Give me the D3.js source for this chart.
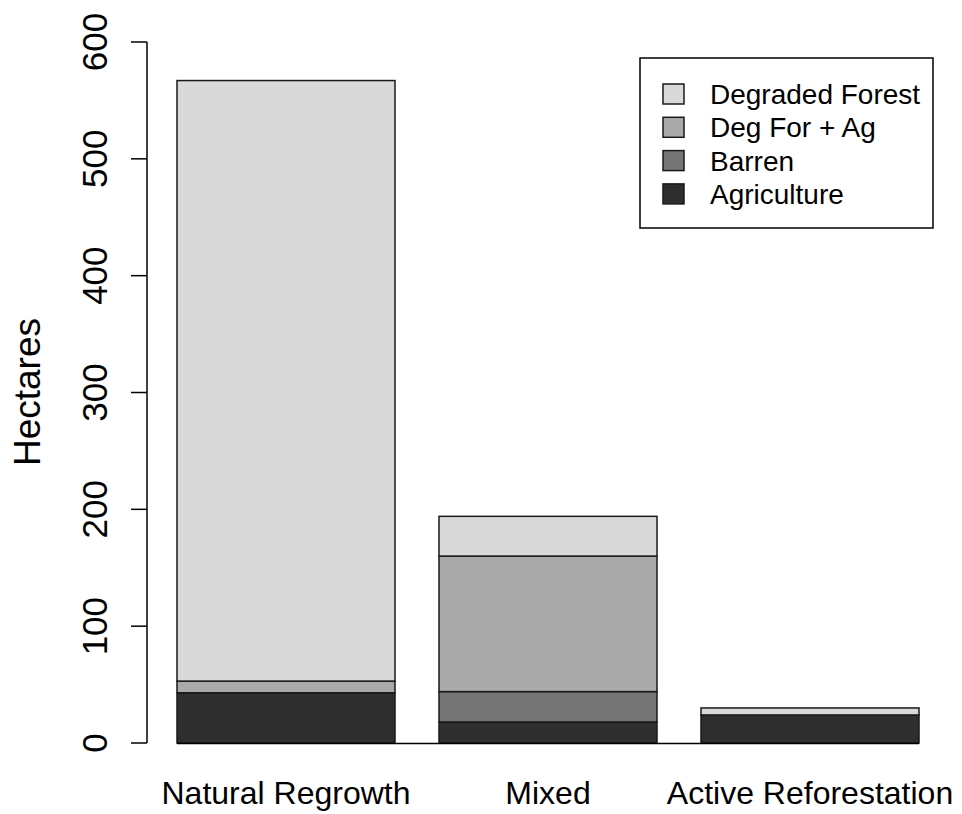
<!DOCTYPE html>
<html>
<head>
<meta charset="utf-8">
<script src="https://cdn.jsdelivr.net/npm/d3@7"></script>
<style>
  body { margin: 0; background: #fff; }
  text { font-family: "Liberation Sans", Arial, sans-serif; fill: #000; }
</style>
</head>
<body>
<svg id="chart" width="962" height="814"></svg>
<script>
var categories = ['Natural Regrowth', 'Mixed', 'Active Reforestation'];
var series = ['Agriculture', 'Barren', 'Deg For + Ag', 'Degraded Forest'];
var agriculture = [43, 18, 24];
var barren = [0, 26, 0];
var degForAg = [10, 116, 0];
var degradedForest = [514, 34, 6];
var colors = ['#2e2e2e', '#757575', '#aaaaaa', '#d9d9d9'];
var yTicks = [0, 100, 200, 300, 400, 500, 600];

var svg = d3.select('#chart');

var x = d3.scaleBand().domain(categories).range([177, 919]).paddingInner(44 / 262).paddingOuter(0);
var y = d3.scaleLinear().domain([0, 600]).range([743, 42]);

var rows = categories.map((c, i) => ({
  cat: c,
  Agriculture: agriculture[i],
  Barren: barren[i],
  'Deg For + Ag': degForAg[i],
  'Degraded Forest': degradedForest[i]
}));

var stacked = d3.stack().keys(series)(rows);

// bars
stacked.forEach((layer, k) => {
  svg.append('g')
    .selectAll('rect')
    .data(layer)
    .enter()
    .append('rect')
    .attr('x', (d) => x(d.data.cat))
    .attr('width', x.bandwidth())
    .attr('y', (d) => y(d[1]))
    .attr('height', (d) => y(d[0]) - y(d[1]))
    .attr('fill', colors[k])
    .attr('stroke', '#1a1a1a')
    .attr('stroke-width', 1.5);
});

// baseline under bars
svg.append('line')
  .attr('x1', x.range()[0])
  .attr('x2', x.range()[1])
  .attr('y1', y(0) + 0.5)
  .attr('y2', y(0) + 0.5)
  .attr('stroke', '#000')
  .attr('stroke-width', 1.5);

// y axis
var yAxis = svg.append('g').attr('transform', 'translate(147,0)');
yAxis.append('line')
  .attr('x1', 0).attr('x2', 0)
  .attr('y1', y(600)).attr('y2', y(0))
  .attr('stroke', '#000').attr('stroke-width', 1.5);
yAxis.selectAll('.tick')
  .data(yTicks)
  .enter()
  .append('line')
  .attr('x1', -16).attr('x2', 0)
  .attr('y1', (d) => y(d)).attr('y2', (d) => y(d))
  .attr('stroke', '#000').attr('stroke-width', 1.5);
yAxis.selectAll('.lab')
  .data(yTicks)
  .enter()
  .append('text')
  .attr('transform', (d) => `translate(-40,${y(d)}) rotate(-90)`)
  .attr('text-anchor', 'middle')
  .attr('font-size', 35)
  .text((d) => d);

// y title
svg.append('text')
  .attr('transform', `translate(40,392) rotate(-90)`)
  .attr('text-anchor', 'middle')
  .attr('font-size', 37)
  .text('Hectares');

// x labels
svg.selectAll('.xlab')
  .data(categories)
  .enter()
  .append('text')
  .attr('x', (d) => x(d) + x.bandwidth() / 2)
  .attr('y', 804)
  .attr('text-anchor', 'middle')
  .attr('font-size', 32)
  .text((d) => d);

// legend
var legend = svg.append('g').attr('transform', 'translate(640,58)');
legend.append('rect')
  .attr('width', 293).attr('height', 170)
  .attr('fill', '#fff').attr('stroke', '#000').attr('stroke-width', 1.5);
var legItems = series.slice().reverse();
var legColors = colors.slice().reverse();
legItems.forEach((s, i) => {
  var gy = 36 + i * 33.3;
  legend.append('rect')
    .attr('x', 23).attr('y', gy - 10)
    .attr('width', 21).attr('height', 20)
    .attr('fill', legColors[i]).attr('stroke', '#1a1a1a').attr('stroke-width', 1.5);
  legend.append('text')
    .attr('x', 70).attr('y', gy + 10)
    .attr('font-size', 28)
    .text(s);
});
</script>
</body>
</html>
